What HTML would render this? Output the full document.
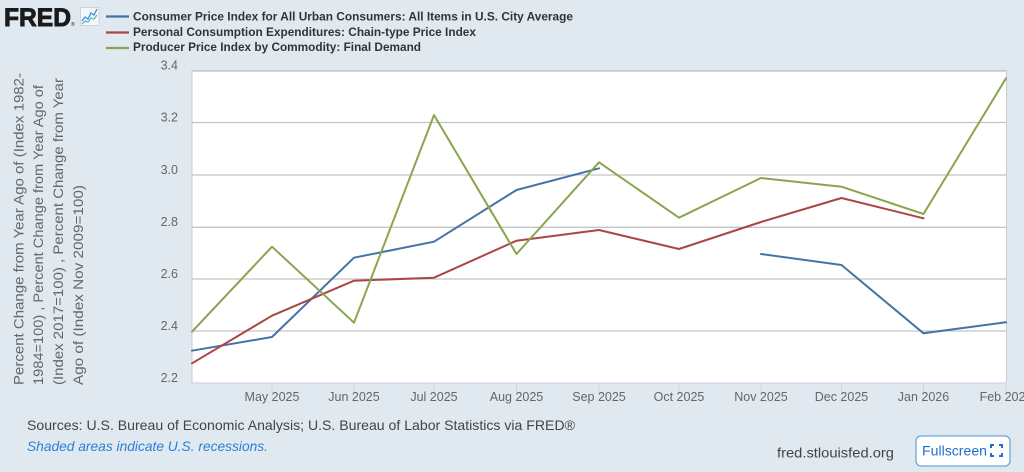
<!DOCTYPE html>
<html><head><meta charset="utf-8"><style>
html,body{margin:0;padding:0;background:#e1e9f0;}
svg{display:block;}
text{font-family:"Liberation Sans",Arial,sans-serif;}
</style></head><body>
<svg width="1024" height="472" viewBox="0 0 1024 472" xmlns="http://www.w3.org/2000/svg">
<rect x="0" y="0" width="1024" height="472" fill="#e1e9f0"/>
<!-- Logo -->
<text x="4" y="26" font-size="25" font-weight="bold" fill="#1a1a1a" stroke="#1a1a1a" stroke-width="0.9" textLength="67" lengthAdjust="spacingAndGlyphs">FRED</text>
<text x="71" y="26" font-size="5" fill="#1a1a1a">®</text>
<rect x="80.5" y="7.5" width="18.5" height="18" fill="#f4f8fb" stroke="#c9d6e2" stroke-width="1"/>
<polyline points="82,21 85,17 88,19 91,13 94,15 97,9" fill="none" stroke="#3d8fe0" stroke-width="1.3"/>
<polyline points="82,24 85,21 88,22 91,18 94,19 97,15" fill="none" stroke="#5cc0b0" stroke-width="1.3"/>
<!-- Legend -->
<line x1="106" y1="16.5" x2="129" y2="16.5" stroke="#4572a7" stroke-width="2.2"/>
<line x1="106" y1="32.5" x2="129" y2="32.5" stroke="#aa4643" stroke-width="2.2"/>
<line x1="106" y1="48" x2="129" y2="48" stroke="#89a54e" stroke-width="2.2"/>
<text x="133" y="20.5" font-size="12" font-weight="bold" fill="#333" textLength="440" lengthAdjust="spacingAndGlyphs">Consumer Price Index for All Urban Consumers: All Items in U.S. City Average</text>
<text x="133" y="36" font-size="12" font-weight="bold" fill="#333" textLength="343" lengthAdjust="spacingAndGlyphs">Personal Consumption Expenditures: Chain-type Price Index</text>
<text x="133" y="51" font-size="12" font-weight="bold" fill="#333" textLength="288" lengthAdjust="spacingAndGlyphs">Producer Price Index by Commodity: Final Demand</text>
<!-- Y axis title -->
<g font-size="14" fill="#666">
<text transform="translate(23.5,385) rotate(-90)" x="0" y="0" textLength="312" lengthAdjust="spacingAndGlyphs">Percent Change from Year Ago of (Index 1982-</text>
<text transform="translate(43,385) rotate(-90)" x="0" y="0" textLength="300" lengthAdjust="spacingAndGlyphs">1984=100) , Percent Change from Year Ago of</text>
<text transform="translate(63,385) rotate(-90)" x="0" y="0" textLength="307" lengthAdjust="spacingAndGlyphs">(Index 2017=100) , Percent Change from Year</text>
<text transform="translate(83,385) rotate(-90)" x="0" y="0" textLength="200" lengthAdjust="spacingAndGlyphs">Ago of (Index Nov 2009=100)</text>
</g>
<!-- Plot area -->
<rect x="192" y="70.5" width="814.5" height="312.5" fill="#ffffff" stroke="#cccccc" stroke-width="1"/>
<g stroke="#c4c4c4" stroke-width="1.3">
<line x1="192" y1="122.5" x2="1006.5" y2="122.5"/>
<line x1="192" y1="175" x2="1006.5" y2="175"/>
<line x1="192" y1="227.3" x2="1006.5" y2="227.3"/>
<line x1="192" y1="279" x2="1006.5" y2="279"/>
<line x1="192" y1="331" x2="1006.5" y2="331"/>
</g>
<line x1="192" y1="71" x2="1006.5" y2="71" stroke="#c4c4c4" stroke-width="1.3"/>
<line x1="192" y1="383" x2="1006.5" y2="383" stroke="#ccd6eb" stroke-width="1.3"/>
<!-- x ticks -->
<g stroke="#ccd6eb" stroke-width="1">
<line x1="272" y1="383" x2="272" y2="394"/>
<line x1="354" y1="383" x2="354" y2="394"/>
<line x1="434" y1="383" x2="434" y2="394"/>
<line x1="516.5" y1="383" x2="516.5" y2="394"/>
<line x1="599" y1="383" x2="599" y2="394"/>
<line x1="679" y1="383" x2="679" y2="394"/>
<line x1="761" y1="383" x2="761" y2="394"/>
<line x1="841.5" y1="383" x2="841.5" y2="394"/>
<line x1="923.5" y1="383" x2="923.5" y2="394"/>
<line x1="1006" y1="383" x2="1006" y2="394"/>
</g>
<!-- Y labels -->
<g font-size="12.5" fill="#666" text-anchor="end">
<text x="178" y="69.5">3.4</text>
<text x="178" y="121.5">3.2</text>
<text x="178" y="174">3.0</text>
<text x="178" y="226">2.8</text>
<text x="178" y="278">2.6</text>
<text x="178" y="330">2.4</text>
<text x="178" y="382">2.2</text>
</g>
<!-- X labels -->
<g font-size="12.5" fill="#666" text-anchor="middle">
<text x="272" y="401">May 2025</text>
<text x="354" y="401">Jun 2025</text>
<text x="434" y="401">Jul 2025</text>
<text x="516.5" y="401">Aug 2025</text>
<text x="599" y="401">Sep 2025</text>
<text x="679" y="401">Oct 2025</text>
<text x="761" y="401">Nov 2025</text>
<text x="841.5" y="401">Dec 2025</text>
<text x="923.5" y="401">Jan 2026</text>
<text x="1006" y="401">Feb 2026</text>
</g>
<!-- Series -->
<g fill="none" stroke-width="2" stroke-linejoin="round" stroke-linecap="round">
<polyline stroke="#4572a7" points="192,350.7 272,337 354,257.7 434,241.7 516.5,190 599,168.3"/>
<polyline stroke="#4572a7" points="761,254 841.5,265 923.5,333.3 1006,322.3"/>
<polyline stroke="#aa4643" points="192,363.3 272,315.7 354,280.7 434,277.7 516.5,240.7 599,230 679,249 761,222 841.5,198 923.5,218.3"/>
<polyline stroke="#89a54e" points="192,331.7 272,246.7 354,322.7 434,115 516.5,254 599,162.3 679,217.7 761,178 841.5,186.7 923.5,214 1006,78.3"/>
</g>
<!-- Footer -->
<text x="27" y="430" font-size="14" fill="#444" textLength="548" lengthAdjust="spacingAndGlyphs">Sources: U.S. Bureau of Economic Analysis; U.S. Bureau of Labor Statistics via FRED®</text>
<text x="27" y="451" font-size="14" font-style="italic" fill="#2b7fd6" textLength="241" lengthAdjust="spacingAndGlyphs">Shaded areas indicate U.S. recessions.</text>
<text x="777" y="457.5" font-size="14" fill="#444" textLength="117" lengthAdjust="spacingAndGlyphs">fred.stlouisfed.org</text>
<rect x="916" y="436" width="94" height="30" rx="5" ry="5" fill="#ffffff" stroke="#6aa6e0" stroke-width="1.3"/>
<text x="922" y="455.5" font-size="14" fill="#1f6fd0" textLength="65" lengthAdjust="spacingAndGlyphs">Fullscreen</text>
<g fill="none" stroke="#1f6fd0" stroke-width="2">
<polyline points="991,448 991,445 994,445"/>
<polyline points="999,445 1002,445 1002,448"/>
<polyline points="991,453 991,456 994,456"/>
<polyline points="999,456 1002,456 1002,453"/>
</g>
</svg>
</body></html>
